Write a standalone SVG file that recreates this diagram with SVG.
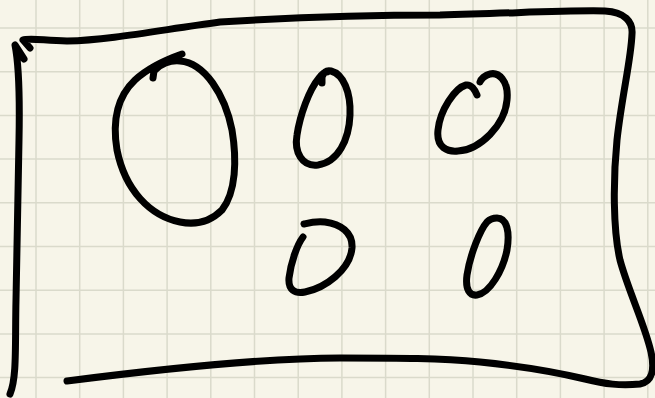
<svg xmlns="http://www.w3.org/2000/svg" width="655" height="398" viewBox="0 0 655 398">
<style>
.grid line{stroke:#dadacb;stroke-width:1.5}
.ink{fill:none;stroke:#000;stroke-width:7;stroke-linecap:round;stroke-linejoin:round}
</style>
<rect width="655" height="398" fill="#f7f5e9"/>
<g class="grid">
<line x1="36" y1="0" x2="36" y2="398"/><line x1="79.7" y1="0" x2="79.7" y2="398"/><line x1="123.4" y1="0" x2="123.4" y2="398"/><line x1="167.1" y1="0" x2="167.1" y2="398"/><line x1="210.8" y1="0" x2="210.8" y2="398"/><line x1="254.5" y1="0" x2="254.5" y2="398"/><line x1="298.2" y1="0" x2="298.2" y2="398"/><line x1="341.9" y1="0" x2="341.9" y2="398"/><line x1="385.6" y1="0" x2="385.6" y2="398"/><line x1="429.3" y1="0" x2="429.3" y2="398"/><line x1="473" y1="0" x2="473" y2="398"/><line x1="516.7" y1="0" x2="516.7" y2="398"/><line x1="560.4" y1="0" x2="560.4" y2="398"/><line x1="604.1" y1="0" x2="604.1" y2="398"/><line x1="647.8" y1="0" x2="647.8" y2="398"/>
<line x1="0" y1="28" x2="655" y2="28"/><line x1="0" y1="71.7" x2="655" y2="71.7"/><line x1="0" y1="115.4" x2="655" y2="115.4"/><line x1="0" y1="159.1" x2="655" y2="159.1"/><line x1="0" y1="202.8" x2="655" y2="202.8"/><line x1="0" y1="246.5" x2="655" y2="246.5"/><line x1="0" y1="290.2" x2="655" y2="290.2"/><line x1="0" y1="333.9" x2="655" y2="333.9"/><line x1="0" y1="377.6" x2="655" y2="377.6"/>
</g>
<g id="frame" class="ink">
<path d="M24,59 L15,45 C18,60 20,90 19,140 L16,300 C15,345 17,378 10,394"/>
<path d="M30,48 L23,40 C28,38 40,40 67,41 C110,40 160,30 220,22 C300,17 380,15 440,15 C520,13 570,10 605,11 C625,12 633,22 632,34 C631,60 622,95 617,140 C613,180 613,230 620,260 C628,290 645,325 651,352 C655,370 652,382 640,384 C620,386 605,384 585,379 C560,373 520,366 480,362 C440,358 400,358 340,358 C280,358 200,364 67,381"/>
</g>
<g id="circle-large" class="ink">
<path d="M153,78 L154,71 C160,64 170,60 180,61 C205,63 225,95 232,130 C237,160 236,192 222,210 C210,222 195,225 180,222 C150,216 125,190 117,150 C112,120 118,96 135,80 C148,68 165,60 182,54"/>
</g>
<g id="oval-top-middle" class="ink">
<path d="M322,83 L322,77 C324,72 327,70 331,71 C343,74 351,92 350,115 C349,140 338,162 318,165 C302,167 294,152 297,135 C300,115 309,90 319,78 C322,74 325,72 327,72"/>
</g>
<g id="oval-top-right" class="ink">
<path d="M477,95 C475,90 471,84 466,85 C455,88 440,110 438,130 C436,148 448,152 458,151 C480,150 505,125 507,100 C509,80 498,72 490,74 C485,75 481,79 480,82"/>
</g>
<g id="oval-bottom-middle" class="ink">
<path d="M303,237 C297,245 291,262 289,278 C288,290 295,294 305,292 C325,288 350,270 352,248 C353,232 340,224 325,222 C315,221 308,223 304,224"/>
</g>
<g id="oval-bottom-right" class="ink">
<path d="M487,222 C480,230 470,255 467,275 C465,290 470,296 477,295 C490,293 503,270 507,250 C510,232 507,218 497,218 C492,218 489,220 487,222"/>
</g>
</svg>
